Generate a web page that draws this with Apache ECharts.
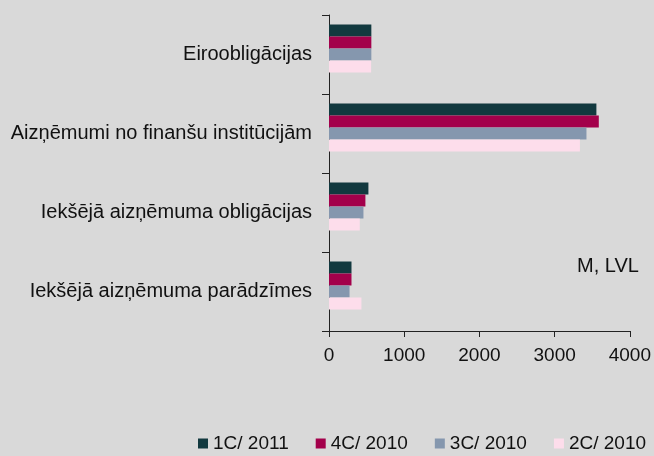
<!DOCTYPE html>
<html>
<head>
<meta charset="utf-8">
<script src="https://cdn.jsdelivr.net/npm/echarts@6/dist/echarts.min.js"></script>
<style>
  html, body { margin: 0; padding: 0; background: #d9d9d9; }
  #chart { width: 654px; height: 456px; }
</style>
</head>
<body>
<div id="chart"></div>
<script>
// categories, top to bottom
const categories = [
  'Eiroobligācijas',
  'Aizņēmumi no finanšu institūcijām',
  'Iekšējā aizņēmuma obligācijas',
  'Iekšējā aizņēmuma parādzīmes'
]
const seriesNames = ['1C/ 2011', '4C/ 2010', '3C/ 2010', '2C/ 2010']
const q1_2011 = [563, 3555, 524, 299]
const q4_2010 = [563, 3587, 484, 299]
const q3_2010 = [563, 3423, 458, 273]
const q2_2010 = [560, 3336, 409, 431]
const colors = ['#12393f', '#a3004b', '#8597ae', '#fdddeb']
const xTicks = [0, 1000, 2000, 3000, 4000]

const values = [q1_2011, q4_2010, q3_2010, q2_2010]
const font = 'Liberation Sans, Arial, sans-serif'

const chart = echarts.init(document.getElementById('chart'))

const series = values.map((v, i) => ({
  name: seriesNames[i],
  type: 'bar',
  data: v,
  itemStyle: { color: colors[i] },
  barWidth: 12,
  barGap: '0%'
}))
// empty slot under the four bars, the original groups sit a bit above centre
series.push({ name: 'spacer', type: 'bar', data: [], barWidth: 12, barGap: '0%', silent: true })

chart.setOption({
  backgroundColor: '#d9d9d9',
  animation: false,
  textStyle: { fontFamily: font },
  grid: { left: 329, right: 22, top: 15, bottom: 125 },
  legend: {
    data: seriesNames,
    top: 434,
    left: 198,
    width: 456,
    padding: 0,
    itemWidth: 10,
    itemHeight: 10,
    itemGap: 27,
    icon: 'rect',
    textStyle: { fontSize: 19, color: '#111', fontFamily: font }
  },
  xAxis: {
    type: 'value',
    min: xTicks[0],
    max: xTicks[xTicks.length - 1],
    interval: 1000,
    splitLine: { show: false },
    axisLine: { show: true, lineStyle: { color: '#222' } },
    axisTick: { show: true, length: 6, lineStyle: { color: '#222' } },
    axisLabel: { fontSize: 19, color: '#111', margin: 15, fontFamily: font, formatter: v => String(v) }
  },
  yAxis: {
    type: 'category',
    data: categories,
    inverse: true,
    axisLine: { show: true, lineStyle: { color: '#222' } },
    axisTick: { show: true, length: 7, lineStyle: { color: '#222' } },
    axisLabel: { fontSize: 20, color: '#111', margin: 17, fontFamily: font }
  },
  graphic: [{
    type: 'text',
    left: 577,
    top: 256,
    style: { text: 'M, LVL', fontSize: 20, fill: '#111', fontFamily: font }
  }],
  series
})
</script>
</body>
</html>
